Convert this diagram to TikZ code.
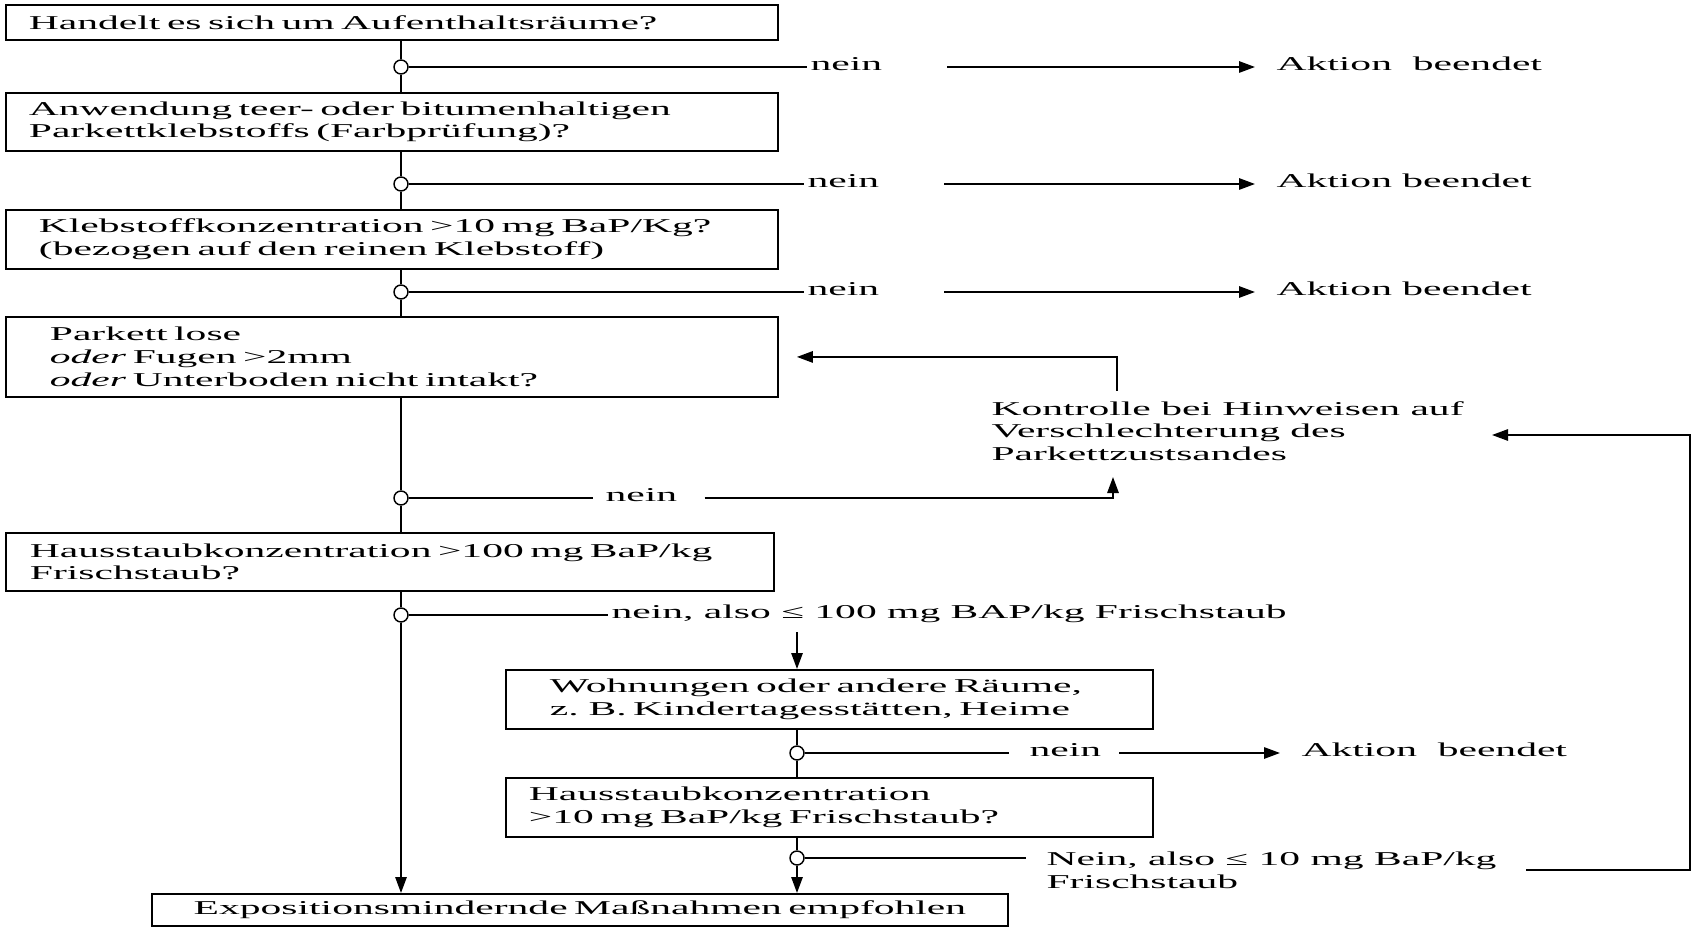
\documentclass[tikz,border=0pt]{standalone}
\usepackage{fontspec}
\setmainfont[FakeStretch=2.12]{Liberation Serif}
\usepackage{tikz}
\usetikzlibrary{arrows.meta}

\begin{document}
\begin{tikzpicture}[x=0.75pt,y=0.75pt,yscale=-1,xscale=1,
  font=\fontsize{14.7}{17}\selectfont,
  line width=1.4pt,
  box/.style={draw,anchor=north west,align=left,inner ysep=0pt},
  jn/.style={draw,circle,fill=white,inner sep=0pt,minimum size=10.5pt,line width=1.1pt},
  lbl/.style={inner sep=2pt},
  arr/.style={-{Triangle[length=12pt,width=8.5pt]}}]
\useasboundingbox (0,0) rectangle (1693,927);

\node[box,minimum height=26.25pt,inner xsep=17.25pt,text width=544.5pt] (b1) at (5,4) {Handelt es sich um Aufenthaltsräume?};
\node[box,minimum height=43.5pt,inner xsep=17.25pt,text width=544.5pt] (b2) at (5,92) {Anwendung teer- oder bitumenhaltigen\\Parkettklebstoffs (Farbprüfung)?};
\node[box,minimum height=44.25pt,inner xsep=24.75pt,text width=529.5pt] (b3) at (5,209) {Klebstoffkonzentration >10 mg BaP/Kg?\\(bezogen auf den reinen Klebstoff)};
\node[box,minimum height=60pt,inner xsep=33pt,text width=513pt] (b4) at (5,316) {Parkett lose\\\textit{oder} Fugen >2mm\\\textit{oder} Unterboden nicht intakt?};
\node[box,minimum height=43.5pt,inner xsep=18pt,text width=540pt] (b5) at (5,532) {Hausstaubkonzentration >100 mg BaP/kg\\Frischstaub?};
\node[box,minimum height=44.25pt,inner xsep=33pt,text width=419.25pt] (b6) at (505,669) {Wohnungen oder andere Räume,\\z. B. Kindertagesstätten, Heime};
\node[box,minimum height=44.25pt,inner xsep=17.25pt,text width=450.75pt] (b7) at (505,777) {Hausstaubkonzentration\\>10 mg BaP/kg Frischstaub?};
\node[box,minimum height=24pt,inner xsep=21pt,text width=600pt,align=center] (b8) at (151,893) {Expositionsmindernde Maßnahmen empfohlen};

\node[jn] (j1) at (401,67) {};
\node[jn] (j2) at (401,184) {};
\node[jn] (j3) at (401,292) {};
\node[jn] (j4) at (401,498) {};
\node[jn] (j5) at (401,615) {};
\node[jn] (j6) at (797,753) {};
\node[jn] (j7) at (797,858) {};

\node[lbl,anchor=mid west] (n1) at (807,67) {nein};
\node[lbl,anchor=mid west] (n2) at (804,184) {nein};
\node[lbl,anchor=mid west] (n3) at (804,292) {nein};
\node[lbl,anchor=mid west] (n4) at (602,498) {nein};
\node[lbl,anchor=mid west] (n5) at (608,615) {nein, also ≤ 100 mg BAP/kg Frischstaub};
\node[lbl,anchor=mid west] (n6) at (1026,753) {nein};
\node[lbl,anchor=mid west] (e1) at (1273,67) {Aktion\ \ beendet};
\node[lbl,anchor=mid west] (e2) at (1273,184) {Aktion beendet};
\node[lbl,anchor=mid west] (e3) at (1273,292) {Aktion beendet};
\node[lbl,anchor=mid west] (e6) at (1298,753) {Aktion\ \ beendet};
\node[lbl,align=left,anchor=west] (k) at (988,431) {Kontrolle bei Hinweisen auf\\Verschlechterung des\\Parkettzustsandes};
\node[lbl,align=left,anchor=west] (t7) at (1043,870) {Nein, also ≤ 10 mg BaP/kg\\Frischstaub};

\coordinate (kin) at (1113,477);
\coordinate (kout) at (1117,391);
\coordinate (d5) at (797,632);
\coordinate (r0) at (1526,870);
\coordinate (r1) at (1690,870);
\coordinate (kr) at (1492,435);

\draw (j1 |- b1.south) -- (j1) -- (j1 |- b2.north);
\draw (j2 |- b2.south) -- (j2) -- (j2 |- b3.north);
\draw (j3 |- b3.south) -- (j3) -- (j3 |- b4.north);
\draw (j4 |- b4.south) -- (j4) -- (j4 |- b5.north);
\draw (j5 |- b5.south) -- (j5);
\draw[arr] (j5) -- (j5 |- b8.north);
\draw (j6 |- b6.south) -- (j6) -- (j6 |- b7.north);
\draw (j7 |- b7.south) -- (j7);
\draw[arr] (j7) -- (j7 |- b8.north);

\draw (j1) -- (j1 -| n1.west);
\draw (j2) -- (j2 -| n2.west);
\draw (j3) -- (j3 -| n3.west);
\draw[shorten >=7pt] (j4) -- (j4 -| n4.west);
\draw (j5) -- (j5 -| n5.west);
\draw[shorten >=13pt] (j6) -- (j6 -| n6.west);
\draw[shorten >=13pt] (j7) -- (j7 -| t7.west);

\draw[arr,shorten <=46pt,shorten >=13.5pt] (j1 -| n1.east) -- (j1 -| e1.west);
\draw[arr,shorten <=46pt,shorten >=13.5pt] (j2 -| n2.east) -- (j2 -| e2.west);
\draw[arr,shorten <=46pt,shorten >=13.5pt] (j3 -| n3.east) -- (j3 -| e3.west);
\draw[arr,shorten <=11pt,shorten >=13.5pt] (j6 -| n6.east) -- (j6 -| e6.west);

\draw[arr,shorten <=18pt] (j4 -| n4.east) -| (kin);
\draw[arr,shorten >=13.5pt] (kout) |- (b4.east);
\draw[arr] (d5) -- (d5 |- b6.north);
\draw[arr] (r0) -- (r1) |- (kr);

\end{tikzpicture}
\end{document}
